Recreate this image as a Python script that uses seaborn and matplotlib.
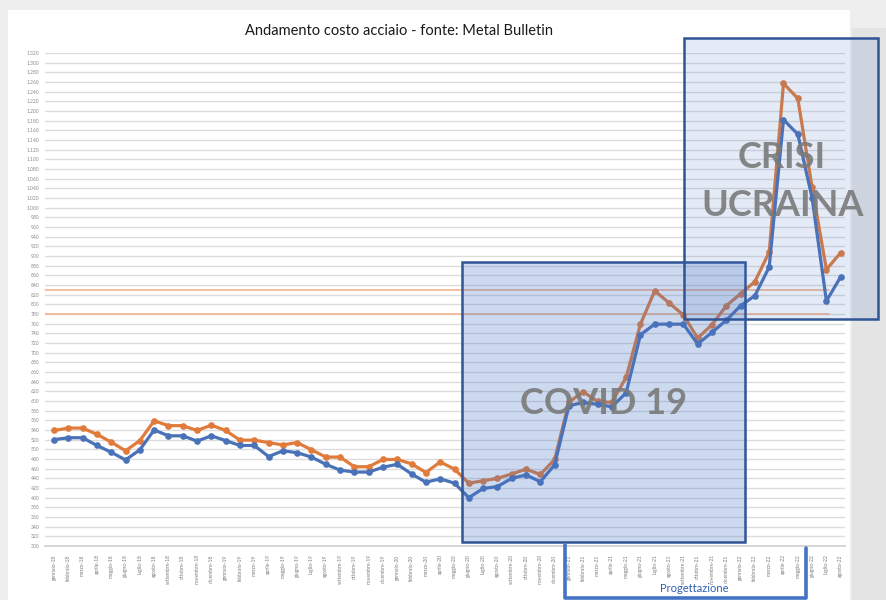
import matplotlib
matplotlib.use("Agg")
import matplotlib.pyplot as plt
import seaborn as sns
import pandas as pd
import numpy as np
from matplotlib.patches import Rectangle
from matplotlib.lines import Line2D

# ---------------- data ----------------
mesi = ["gennaio", "febbraio", "marzo", "aprile", "maggio", "giugno", "luglio",
        "agosto", "settembre", "ottobre", "novembre", "dicembre"]
anni = ["18", "19", "20", "21", "22"]
labels = [f"{m}-{a}" for a in anni for m in mesi][:56]

serie_blu = [520, 524, 524, 508, 494, 478, 499, 540, 528, 528, 517, 528,
             518, 508, 508, 485, 497, 493, 484, 469, 457, 453, 453, 463,
             469, 449, 432, 439, 430, 400, 419, 423, 440, 447, 433, 468,
             590, 597, 593, 588, 617, 737, 759, 759, 759, 718, 742, 767,
             797, 818, 877, 1182, 1152, 1020, 807, 857]
serie_arancio = [539, 544, 544, 531, 515, 497, 518, 559, 549, 549, 539, 550,
                 539, 519, 519, 514, 509, 514, 499, 484, 484, 464, 464, 479,
                 479, 470, 452, 474, 459, 430, 435, 440, 449, 459, 448, 479,
                 598, 619, 599, 597, 649, 759, 828, 803, 778, 730, 758, 797,
                 822, 847, 908, 1257, 1226, 1042, 872, 907]
linee_rif = [780, 830]
yticks = list(range(300, 1321, 20))

# ---------------- figure ----------------
W, H = 887, 600
sns.set_theme(style="white")
plt.rcParams['font.family'] = ['Lato', 'DejaVu Sans']
fig = plt.figure(figsize=(W / 100, H / 100), dpi=100)
fig.patch.set_facecolor("#eeeeee")

def fx(x):
    return x / W

def fy(y):
    return 1 - y / H

# white chart panel
fig.add_artist(Rectangle((fx(8), fy(600)), fx(842), 590 / H,
                         transform=fig.transFigure, facecolor="white",
                         edgecolor="none", zorder=0))
# grey column at the right
fig.add_artist(Rectangle((fx(852), fy(600)), fx(35), 572 / H,
                         transform=fig.transFigure, facecolor="#e4e4e4",
                         edgecolor="none", zorder=0))

ax = fig.add_axes([fx(45), fy(546), fx(800), (546 - 53) / H])
ax.set_facecolor("none")

n = len(labels)
df = pd.DataFrame({
    "idx": list(range(n)) * 2,
    "valore": serie_arancio + serie_blu,
    "serie": ["arancio"] * n + ["blu"] * n,
})

for v in yticks:
    ax.axhline(v, color="#dcdcdc", lw=1.0, zorder=0)
for v in linee_rif:
    ax.plot([-0.6, 54.2], [v, v], color="#f2b48c", lw=1.2, zorder=1)

sns.lineplot(data=df, x="idx", y="valore", hue="serie",
             palette={"arancio": "#e07b3c", "blu": "#4a72b8"},
             marker="o", markersize=4.8, markeredgewidth=0, lw=2.3,
             legend=False, ax=ax, zorder=3)

ax.set_xlim(-0.63, 55.3)
ax.set_ylim(300, 1320)
ax.set_yticks(yticks)
ax.set_yticklabels([f"{v:,}".replace(",", ".") for v in yticks],
                   fontsize=3.6, color="#8c8c8c")
ax.set_xticks(range(n))
ax.set_xticklabels(labels, rotation=90, fontsize=3.6, color="#7a7a7a")
ax.tick_params(axis="x", length=2, color="#bfbfbf", pad=4)
ax.tick_params(axis="y", length=0, pad=4)
ax.set_xlabel("")
ax.set_ylabel("")
for s in ["top", "right", "left"]:
    ax.spines[s].set_visible(False)
ax.spines["bottom"].set_color("#d0d0d0")

# title
fig.text(fx(399), fy(31), "Andamento costo acciaio - fonte: Metal Bulletin",
         ha="center", va="center", fontsize=10.5, color="#1a1a1a")

# overlay boxes
edge = "#2f5597"
fig.add_artist(Rectangle((fx(462), fy(542)), fx(745 - 462), (542 - 262) / H,
                         transform=fig.transFigure, facecolor=(0.27, 0.45, 0.77, 0.27),
                         edgecolor=edge, lw=1.8, zorder=5))
fig.add_artist(Rectangle((fx(684), fy(319)), fx(878 - 684), (319 - 38) / H,
                         transform=fig.transFigure, facecolor=(0.27, 0.45, 0.77, 0.14),
                         edgecolor=edge, lw=1.8, zorder=5))

fig.text(fx(604), fy(404), "COVID 19", ha="center", va="center",
         fontsize=26, fontweight="bold", color="#7a7a7a", alpha=0.9, zorder=6)
fig.text(fx(782), fy(157), "CRISI", ha="center", va="center",
         fontsize=26, fontweight="bold", color="#7a7a7a", alpha=0.9, zorder=6)
fig.text(fx(783), fy(205), "UCRAINA", ha="center", va="center",
         fontsize=26, fontweight="bold", color="#7a7a7a", alpha=0.9, zorder=6)

# Progettazione bracket
bc = "#4472c4"
fig.add_artist(Line2D([fx(565), fx(565), fx(806), fx(806)],
                      [fy(545), fy(598), fy(598), fy(548)],
                      transform=fig.transFigure, color=bc, lw=2.6, zorder=6))
fig.text(fx(694), fy(589), "Progettazione", ha="center", va="center",
         fontsize=8, color="#2f5fb0", zorder=6)

fig.savefig("out.png", dpi=100)
